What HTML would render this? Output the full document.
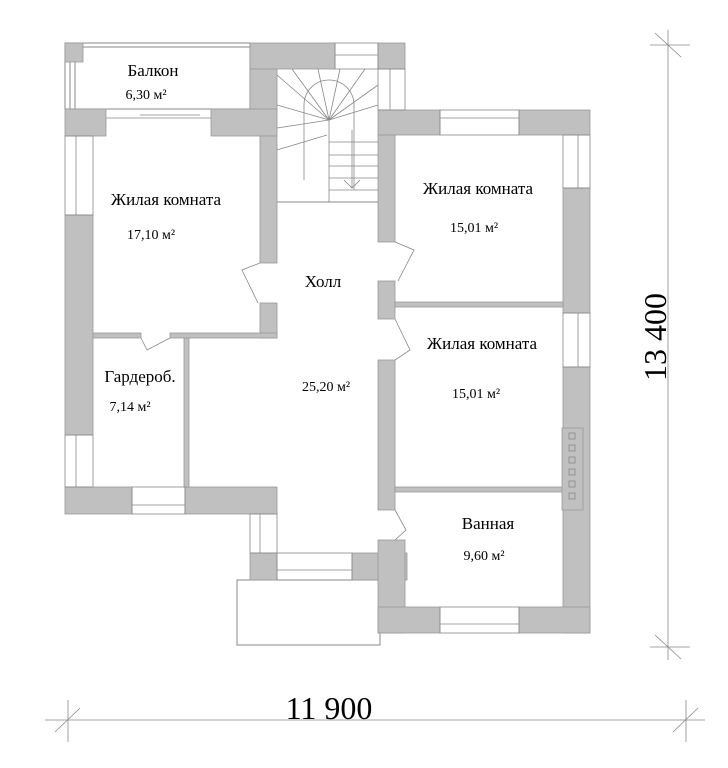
<!DOCTYPE html>
<html><head><meta charset="utf-8"><style>
html,body{margin:0;padding:0;background:#fff;}
svg{display:block;}
text{font-family:"Liberation Serif",serif;fill:#000;}
</style></head><body>
<svg width="728" height="768" viewBox="0 0 728 768" xmlns="http://www.w3.org/2000/svg">
<g fill="none" stroke="#888" stroke-width="1">
<rect x="65" y="43" width="185" height="66"/>
<line x1="83" y1="47" x2="250" y2="47"/>
<line x1="70" y1="62" x2="70" y2="109"/>
<line x1="75" y1="62" x2="75" y2="109"/>
<rect x="237" y="580" width="143" height="65"/>
<line x1="277" y1="202" x2="378" y2="202"/>
</g>
<g fill="#c0c0c0" stroke="#999" stroke-width="0.8">
<rect x="65" y="43" width="18" height="19"/>
<rect x="250" y="43" width="85" height="26"/>
<rect x="250" y="69" width="27" height="40"/>
<rect x="378" y="43" width="27" height="26"/>
<rect x="65" y="109" width="41" height="27"/>
<rect x="211" y="109" width="66" height="27"/>
<rect x="260" y="136" width="17" height="127"/>
<rect x="260" y="303" width="17" height="35"/>
<rect x="65" y="215" width="28" height="220"/>
<rect x="65" y="487" width="67" height="27"/>
<rect x="185" y="487" width="92" height="27"/>
<rect x="93" y="333" width="48" height="5"/>
<rect x="170" y="333" width="107" height="5"/>
<rect x="184" y="338" width="5" height="149"/>
<rect x="250" y="553" width="27" height="27"/>
<rect x="352" y="553" width="55" height="27"/>
<rect x="378" y="540" width="27" height="93"/>
<rect x="378" y="110" width="62" height="25"/>
<rect x="519" y="110" width="71" height="25"/>
<rect x="378" y="135" width="17" height="107"/>
<rect x="378" y="281" width="17" height="38"/>
<rect x="378" y="360" width="17" height="150"/>
<rect x="563" y="188" width="27" height="125"/>
<rect x="563" y="367" width="27" height="266"/>
<rect x="378" y="607" width="62" height="26"/>
<rect x="519" y="607" width="71" height="26"/>
<rect x="395" y="302" width="168" height="5"/>
<rect x="395" y="487" width="168" height="5"/>
<rect x="562" y="428" width="21" height="82"/>
</g>
<g fill="none" stroke="#888" stroke-width="0.8">
<rect x="335" y="43" width="43" height="26"/><line x1="335" y1="55" x2="378" y2="55"/>
<rect x="378" y="69" width="27" height="41"/><line x1="390" y1="69" x2="390" y2="110"/>
<rect x="65" y="136" width="28" height="79"/><line x1="76" y1="136" x2="76" y2="215"/>
<rect x="65" y="435" width="28" height="52"/><line x1="76" y1="435" x2="76" y2="487"/>
<rect x="132" y="487" width="53" height="27"/><line x1="132" y1="505" x2="185" y2="505"/>
<rect x="250" y="514" width="27" height="39"/><line x1="260" y1="514" x2="260" y2="553"/>
<rect x="277" y="553" width="75" height="27"/><line x1="277" y1="570" x2="352" y2="570"/>
<rect x="440" y="110" width="79" height="25"/><line x1="440" y1="118" x2="519" y2="118"/>
<rect x="440" y="607" width="79" height="26"/><line x1="440" y1="624" x2="519" y2="624"/>
<rect x="563" y="135" width="27" height="53"/><line x1="578" y1="135" x2="578" y2="188"/>
<rect x="563" y="313" width="27" height="54"/><line x1="578" y1="313" x2="578" y2="367"/>
<line x1="106" y1="118" x2="211" y2="118"/><line x1="140" y1="115" x2="200" y2="115"/>
<rect x="569" y="433" width="6" height="6"/><rect x="569" y="445" width="6" height="6"/>
<rect x="569" y="457" width="6" height="6"/><rect x="569" y="469" width="6" height="6"/>
<rect x="569" y="481" width="6" height="6"/><rect x="569" y="493" width="6" height="6"/>
<polyline points="260,263 242,270 258,303"/>
<polyline points="141,338 147,350 170,338"/>
<polyline points="395,242 414,250 398,281"/>
<polyline points="395,319 410,350 395,360"/>
<polyline points="395,510 406,530 395,540"/>
<line x1="277" y1="150" x2="327" y2="135"/>
<path d="M304,180 L304,105 A25,25 0 0 1 354,105 L354,190"/>
<line x1="329" y1="120" x2="329" y2="202"/>
<line x1="329" y1="120" x2="277" y2="75"/><line x1="329" y1="120" x2="292" y2="69"/>
<line x1="329" y1="120" x2="318" y2="69"/><line x1="329" y1="120" x2="340" y2="69"/>
<line x1="329" y1="120" x2="365" y2="69"/><line x1="329" y1="120" x2="378" y2="85"/>
<line x1="329" y1="120" x2="378" y2="105"/><line x1="329" y1="120" x2="277" y2="105"/>
<line x1="329" y1="120" x2="277" y2="128"/>
<line x1="329" y1="142" x2="378" y2="142"/><line x1="329" y1="155" x2="378" y2="155"/>
<line x1="329" y1="166" x2="378" y2="166"/><line x1="329" y1="178" x2="378" y2="178"/>
<line x1="329" y1="190" x2="378" y2="190"/>
<line x1="352" y1="130" x2="352" y2="188"/>
<polyline points="344,180 352,188 360,180"/>
<line x1="668" y1="30" x2="668" y2="660"/>
<line x1="650" y1="45" x2="690" y2="45"/><line x1="655" y1="33" x2="681" y2="57"/>
<line x1="650" y1="647" x2="690" y2="647"/><line x1="655" y1="635" x2="681" y2="659"/>
<line x1="45" y1="720" x2="705" y2="720"/>
<line x1="68" y1="700" x2="68" y2="742"/><line x1="55" y1="732" x2="80" y2="708"/>
<line x1="686" y1="700" x2="686" y2="742"/><line x1="673" y1="732" x2="698" y2="708"/>
</g>
<g font-size="17" text-anchor="middle">
<text x="153" y="76">Балкон</text>
<text x="146" y="99" font-size="14">6,30 м²</text>
<text x="166" y="205">Жилая комната</text>
<text x="151" y="239" font-size="14">17,10 м²</text>
<text x="323" y="287">Холл</text>
<text x="326" y="391" font-size="14">25,20 м²</text>
<text x="140" y="382">Гардероб.</text>
<text x="130" y="411" font-size="14">7,14 м²</text>
<text x="478" y="194">Жилая комната</text>
<text x="474" y="232" font-size="14">15,01 м²</text>
<text x="482" y="349">Жилая комната</text>
<text x="476" y="398" font-size="14">15,01 м²</text>
<text x="488" y="529">Ванная</text>
<text x="484" y="560" font-size="14">9,60 м²</text>
<text x="329" y="719" font-size="32">11 900</text>
<text x="0" y="0" font-size="32" transform="translate(666,337) rotate(-90)">13 400</text>
</g>
</svg>
</body></html>
